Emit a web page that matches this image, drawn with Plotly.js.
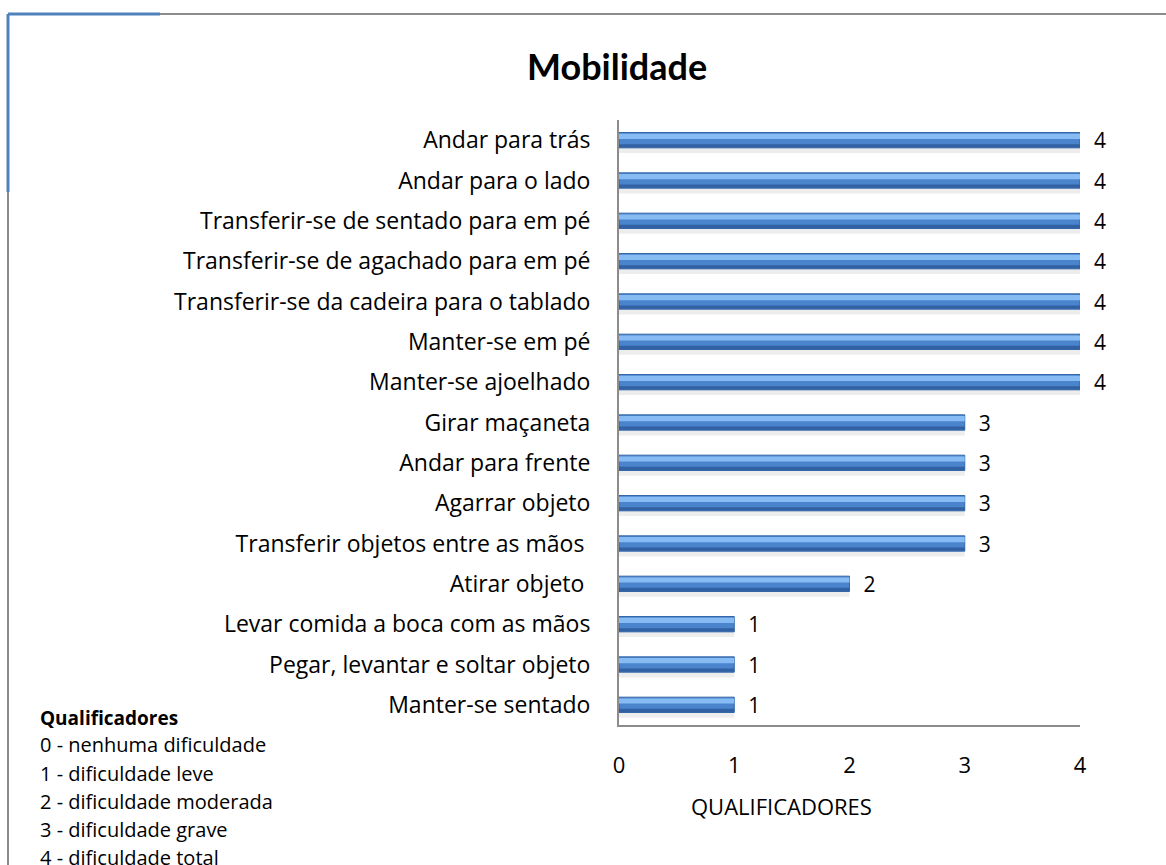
<!DOCTYPE html>
<html>
<head>
<meta charset="utf-8">
<script src="https://cdn.plot.ly/plotly-3.0.1.min.js"></script>
<style>html,body{margin:0;padding:0;background:#fff;}#chart{width:1166px;height:865px;}</style>
</head>
<body>
<div id="chart"></div>
<script>
const categories = [
  "Andar para trás",
  "Andar para o lado",
  "Transferir-se de sentado para em pé",
  "Transferir-se de agachado para em pé",
  "Transferir-se da cadeira para o tablado",
  "Manter-se em pé",
  "Manter-se ajoelhado",
  "Girar maçaneta",
  "Andar para frente",
  "Agarrar objeto",
  "Transferir objetos entre as mãos ",
  "Atirar objeto ",
  "Levar comida a boca com as mãos",
  "Pegar, levantar e soltar objeto",
  "Manter-se sentado"
];
const values = [4, 4, 4, 4, 4, 4, 4, 3, 3, 3, 3, 2, 1, 1, 1];
const tickVals = [0, 1, 2, 3, 4];
const legendTitle = "Qualificadores";
const legendLines = [
  "0 - nenhuma dificuldade",
  "1 - dificuldade leve",
  "2 - dificuldade moderada",
  "3 - dificuldade grave",
  "4 - dificuldade total"
];

const W = 1166, H = 865;
const L = 619, R = 86, T = 120, B = 140;
const pw = W - L - R, ph = H - T - B;
const px = x => (x - L) / pw;
const py = y => (H - B - y) / ph;
const FONT = "'Open Sans', sans-serif";

const traces = [
  { // shadow
    type: 'bar', orientation: 'h', y: categories, x: values,
    width: 0.14, offset: 0.18, marker: {color: 'rgba(0,0,0,0.07)'},
    hoverinfo: 'skip', showlegend: false
  },
  { // main bar
    type: 'bar', orientation: 'h', y: categories, x: values,
    width: 0.38, offset: -0.19,
    marker: {color: '#4a84cc', line: {color: '#3567a8', width: 1}},
    text: values.map(v => '  ' + v), textposition: 'outside',
    constraintext: 'none',
    textfont: {family: FONT, size: 21, color: '#000'},
    cliponaxis: false, showlegend: false
  },
  { // highlight
    type: 'bar', orientation: 'h', y: categories, x: values,
    width: 0.13, offset: -0.16, marker: {color: '#86bbf4'},
    hoverinfo: 'skip', showlegend: false
  },
  { // dark bottom
    type: 'bar', orientation: 'h', y: categories, x: values,
    width: 0.08, offset: 0.1, marker: {color: '#3261a3'},
    hoverinfo: 'skip', showlegend: false
  }
];

const annotations = [
  {text: '<b>Mobilidade</b>', xref: 'paper', yref: 'paper', x: px(617), y: py(66),
   xanchor: 'center', yanchor: 'middle', showarrow: false,
   font: {family: "Lato, 'Open Sans', sans-serif", size: 36, color: '#000'}},
  {text: 'QUALIFICADORES', xref: 'paper', yref: 'paper', x: px(781), y: py(806),
   xanchor: 'center', yanchor: 'middle', showarrow: false,
   font: {family: FONT, size: 22, color: '#000'}},
  {text: '<b>' + legendTitle + '</b>', xref: 'paper', yref: 'paper', x: px(38), y: py(718),
   xanchor: 'left', yanchor: 'middle', showarrow: false,
   font: {family: FONT, size: 19, color: '#000'}}
];
legendLines.forEach((t, i) => {
  annotations.push({text: t, xref: 'paper', yref: 'paper', x: px(38), y: py(745 + i * 28),
    xanchor: 'left', yanchor: 'middle', showarrow: false,
    font: {family: FONT, size: 20, color: '#000'}});
});

const shapes = [
  {type: 'line', xref: 'paper', yref: 'paper', x0: px(8), x1: px(1166), y0: py(14), y1: py(14),
   line: {color: '#8c8c8c', width: 2}},
  {type: 'line', xref: 'paper', yref: 'paper', x0: px(8), x1: px(8), y0: py(14), y1: py(865),
   line: {color: '#8c8c8c', width: 2}},
  {type: 'line', xref: 'paper', yref: 'paper', x0: px(8), x1: px(160), y0: py(14), y1: py(14),
   line: {color: '#4f81bd', width: 3}},
  {type: 'line', xref: 'paper', yref: 'paper', x0: px(8), x1: px(8), y0: py(14), y1: py(192),
   line: {color: '#4f81bd', width: 3}}
];

const layout = {
  width: W, height: H,
  margin: {l: L, r: R, t: T, b: B, pad: 0},
  paper_bgcolor: '#fff', plot_bgcolor: '#fff',
  barmode: 'overlay',
  showlegend: false,
  font: {family: FONT, color: '#000'},
  xaxis: {
    range: [0, 4], tickvals: tickVals, showgrid: false, zeroline: false,
    showline: true, linecolor: '#8c8c8c', linewidth: 2,
    ticks: '', ticklabelstandoff: 20,
    tickfont: {family: FONT, size: 22, color: '#000'}
  },
  yaxis: {
    type: 'category', autorange: 'reversed', showgrid: false, zeroline: false,
    showline: true, linecolor: '#8c8c8c', linewidth: 2,
    ticks: '', ticklabelstandoff: 22,
    tickfont: {family: FONT, size: 23, color: '#000'}
  },
  annotations: annotations,
  shapes: shapes
};

Plotly.newPlot('chart', traces, layout, {displayModeBar: false, staticPlot: true});
</script>
</body>
</html>
